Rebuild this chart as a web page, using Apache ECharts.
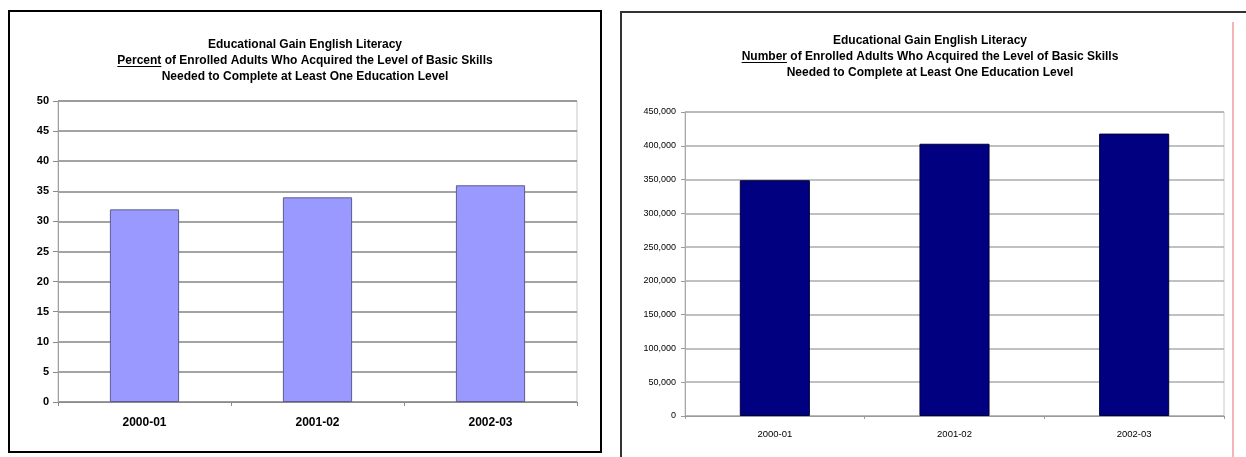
<!DOCTYPE html>
<html>
<head>
<meta charset="utf-8">
<script src="https://cdn.jsdelivr.net/npm/echarts@6/dist/echarts.min.js"></script>
<style>
html, body { margin: 0; padding: 0; background: #fff; }
#chart { width: 1246px; height: 457px; }
</style>
</head>
<body>
<div id="chart"></div>
<script>
// data
const categories = ["2000-01", "2001-02", "2002-03"];
const percentValues = [32, 34, 36];
const numberValues = [349000, 403000, 418000];

const titleLine1 = "Educational Gain English Literacy";
const percentWord = "Percent";
const numberWord = "Number";
const titleRest2 = " of Enrolled Adults Who Acquired the Level of Basic Skills";
const titleLine3 = "Needed to Complete at Least One Education Level";

const FONT = "Liberation Sans, Arial, sans-serif";

// measure text so the underline sits under the first word
function measure(text, font) {
    let ctx = document.createElement("canvas").getContext("2d");
    ctx.font = font;
    return ctx.measureText(text).width;
}

function titleBlock(cx, top, word) {
    let font = "bold 12px " + FONT;
    let line2 = word + titleRest2;
    let full = measure(line2, font);
    let wWord = measure(word, font);
    let x0 = cx - full / 2;
    return [
        {
            type: "text",
            x: cx,
            y: top,
            style: {
                text: titleLine1 + "\n" + line2 + "\n" + titleLine3,
                font: font,
                fill: "#000",
                align: "center",
                verticalAlign: "top",
                lineHeight: 16
            }
        },
        {
            type: "line",
            shape: { x1: x0, y1: top + 29.5, x2: x0 + wWord, y2: top + 29.5 },
            style: { stroke: "#000", lineWidth: 1 }
        }
    ];
}

let myChart = echarts.init(document.getElementById("chart"), null, { renderer: "canvas" });

let option = {
    backgroundColor: "#fff",
    animation: false,
    grid: [
        { left: 58, right: 669, top: 101, bottom: 55, show: true, borderColor: "#c8c8c8", borderWidth: 1 },
        { left: 685, right: 22, top: 112, bottom: 41, show: true, borderColor: "#c8c8c8", borderWidth: 1 }
    ],
    xAxis: [
        {
            type: "category",
            gridIndex: 0,
            data: categories,
            axisLine: { lineStyle: { color: "#8a8a8a", width: 1 } },
            axisTick: { show: true, length: 4, lineStyle: { color: "#8a8a8a" } },
            axisLabel: { color: "#000", fontFamily: FONT, fontWeight: "bold", fontSize: 12, margin: 15 }
        },
        {
            type: "category",
            gridIndex: 1,
            data: categories,
            axisLine: { lineStyle: { color: "#9a9a9a", width: 1 } },
            axisTick: { show: true, length: 3, lineStyle: { color: "#9a9a9a" } },
            axisLabel: { color: "#000", fontFamily: FONT, fontSize: 9.5, margin: 13 }
        }
    ],
    yAxis: [
        {
            type: "value",
            gridIndex: 0,
            min: 0,
            max: 50,
            interval: 5,
            axisLine: { show: true, lineStyle: { color: "#a0a0a0", width: 1 } },
            axisTick: { show: true, length: 5, lineStyle: { color: "#8a8a8a" } },
            splitLine: { show: true, lineStyle: { color: "#858585", width: 1.5 } },
            axisLabel: { color: "#000", fontFamily: FONT, fontWeight: "bold", fontSize: 11, margin: 9 }
        },
        {
            type: "value",
            gridIndex: 1,
            min: 0,
            max: 450000,
            interval: 50000,
            axisLine: { show: true, lineStyle: { color: "#a8a8a8", width: 1 } },
            axisTick: { show: true, length: 4, lineStyle: { color: "#9a9a9a" } },
            splitLine: { show: true, lineStyle: { color: "#ababab", width: 1.5 } },
            axisLabel: {
                color: "#000",
                fontFamily: FONT,
                fontSize: 9,
                margin: 9,
                formatter: v => v.toLocaleString("en-US")
            }
        }
    ],
    series: [
        {
            type: "bar",
            xAxisIndex: 0,
            yAxisIndex: 0,
            data: percentValues,
            barWidth: "40%",
            itemStyle: { color: "#9999ff", borderColor: "#5c5c8f", borderWidth: 1 }
        },
        {
            type: "bar",
            xAxisIndex: 1,
            yAxisIndex: 1,
            data: numberValues,
            barWidth: "39%",
            itemStyle: { color: "#000080", borderColor: "#000033", borderWidth: 1 }
        }
    ],
    graphic: [
        // panel frames
        {
            type: "rect",
            shape: { x: 9, y: 11, width: 592, height: 441 },
            style: { fill: null, stroke: "#000", lineWidth: 2 }
        },
        {
            type: "rect",
            shape: { x: 621, y: 12, width: 700, height: 500 },
            style: { fill: null, stroke: "#333", lineWidth: 2 }
        },
        {
            type: "line",
            shape: { x1: 1233, y1: 22, x2: 1233, y2: 457 },
            style: { stroke: "#e86a6a", lineWidth: 1 }
        }
    ]
        .concat(titleBlock(305, 37, percentWord))
        .concat(titleBlock(930, 33, numberWord))
};

myChart.setOption(option);
</script>
</body>
</html>
